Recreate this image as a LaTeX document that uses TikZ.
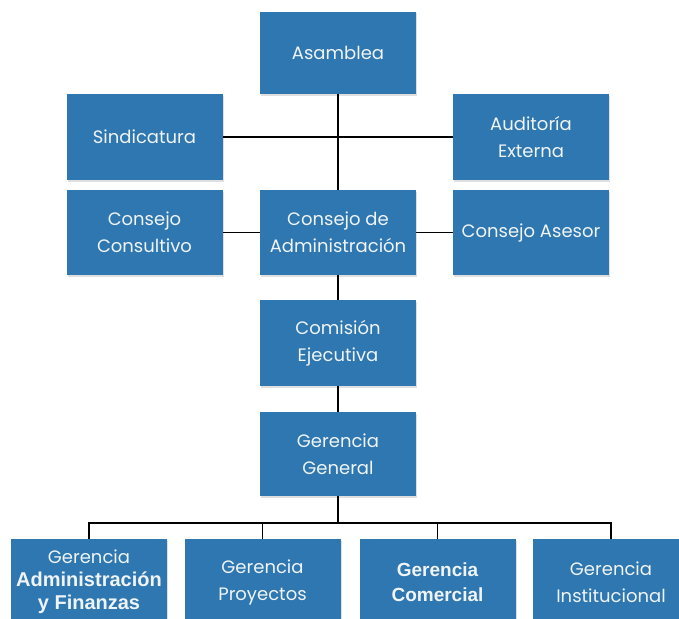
\documentclass[tikz,border=0pt]{standalone}
\usepackage{fontspec}
\setmainfont{Poppins}
\newfontfamily\arialf{Liberation Sans}
\usetikzlibrary{shadows}
\definecolor{boxblue}{RGB}{46,119,176}
\definecolor{boxtext}{RGB}{240,244,247}
\tikzset{
  orgbox/.style={fill=boxblue, draw=none, minimum width=156pt, minimum height=85pt,
    align=center, text=boxtext, inner sep=2pt,
    font=\fontsize{18}{27}\selectfont,
    drop shadow={opacity=0.25, shadow xshift=1pt, shadow yshift=-1.5pt}},
  link/.style={draw=black, line width=1.3pt}
}
\newcommand{\boldar}[1]{{\arialf\bfseries\fontsize{20}{23}\selectfont #1}}
\begin{document}
\begin{tikzpicture}[x=1pt,y=-1pt]
\useasboundingbox (0,0) rectangle (679,618);
\node[orgbox, minimum height=82pt] (asam) at (338,53) {Asamblea};
\node[orgbox, minimum height=86pt] (sind) at (144.5,137) {Sindicatura};
\node[orgbox, minimum height=86pt] (audit) at (531,137) {Auditoría\\Externa};
\node[orgbox] (ccons) at (144.5,232.5) {Consejo\\Consultivo};
\node[orgbox] (cda) at (338,232.5) {Consejo de\\Administración};
\node[orgbox] (ases) at (531,232.5) {Consejo Asesor};
\node[orgbox, minimum height=86pt] (comi) at (338,343) {Comisión\\Ejecutiva};
\node[orgbox, minimum height=84pt] (gg) at (338,454) {Gerencia\\General};
\node[orgbox, minimum height=86pt, font=\fontsize{18}{23}\selectfont] (b1) at (89,582) {Gerencia\\\boldar{Administración}\\\boldar{y Finanzas}};
\node[orgbox, minimum height=86pt] (b2) at (262.5,582) {Gerencia\\Proyectos};
\node[orgbox, minimum height=86pt, font=\arialf\bfseries\fontsize{19}{25}\selectfont] (b3) at (437.5,582) {Gerencia\\Comercial};
\node[orgbox, minimum height=86pt] (b4) at (611,582) {Gerencia\\Institucional};
\coordinate (bus) at (338,523);
\draw[link] (asam.south) -- (cda.north);
\draw[link] (sind.east) -- (audit.west);
\draw[link] (ccons.east) -- (cda.west);
\draw[link] (cda.east) -- (ases.west);
\draw[link] (cda.south) -- (comi.north);
\draw[link] (comi.south) -- (gg.north);
\draw[link] (gg.south) -- (bus);
\draw[link] (b1.north) -- (b1.north |- bus) -- (b4.north |- bus) -- (b4.north);
\draw[link] (b2.north) -- (b2.north |- bus);
\draw[link] (b3.north) -- (b3.north |- bus);
\end{tikzpicture}
\end{document}
